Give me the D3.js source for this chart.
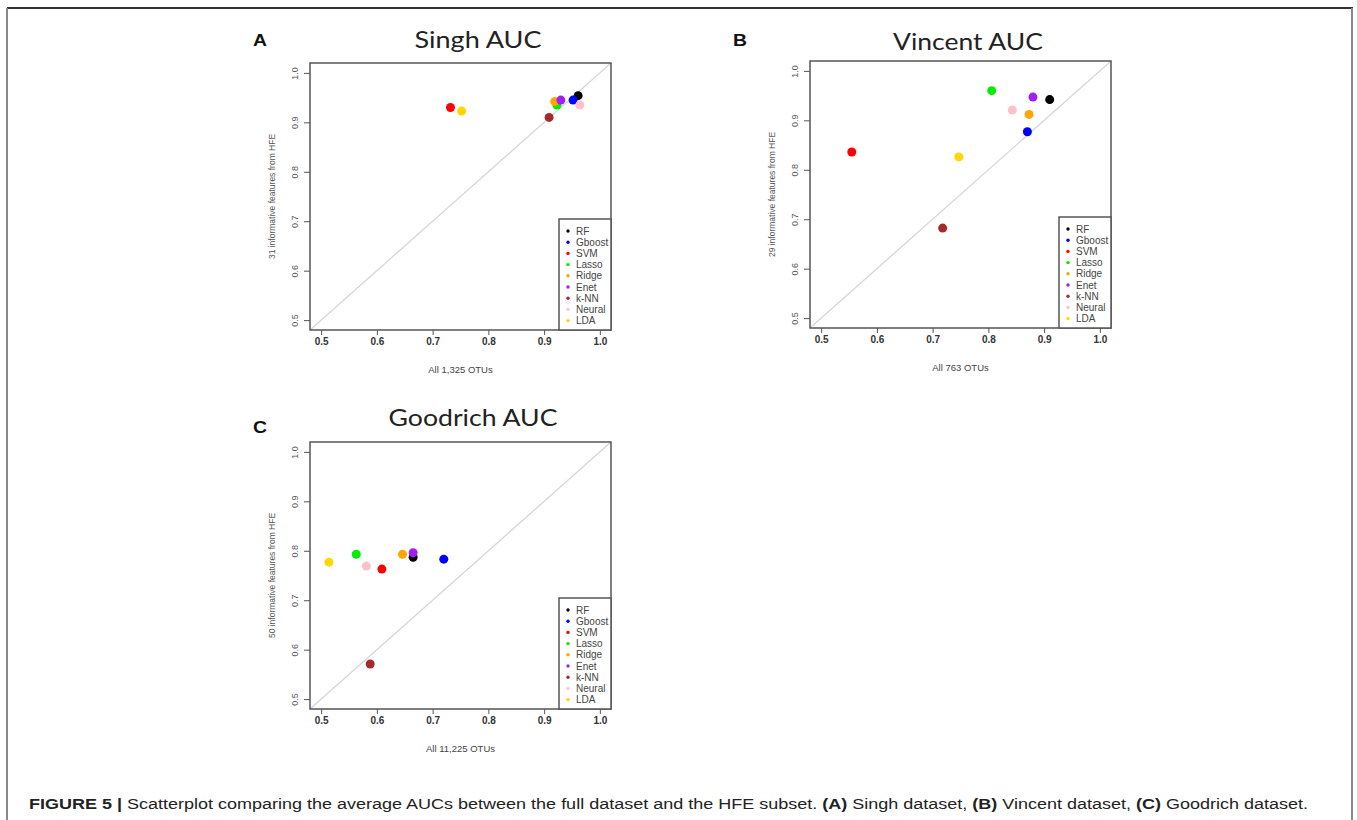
<!DOCTYPE html>
<html>
<head>
<meta charset="utf-8">
<script src="https://cdn.jsdelivr.net/npm/d3@7"></script>
<style>
  body { margin: 0; background: #fff; }
  svg { display: block; }
  text { font-family: 'Liberation Sans', Arial, sans-serif; }
</style>
</head>
<body>
<div id="wrapper"></div>
<script>
// methods shown in every panel, legend order = drawing order
const methods = ['RF', 'Gboost', 'SVM', 'Lasso', 'Ridge', 'Enet', 'k-NN', 'Neural', 'LDA'];
const methodColors = ['#000000', '#0000ff', '#ff0000', '#00ee00', '#ffa500', '#a020f0', '#a52a2a', '#ffc0cb', '#ffd700'];

// average AUC, all OTUs (x) vs HFE subset (y)
const singhAll = [0.961, 0.952, 0.732, 0.923, 0.919, 0.930, 0.909, 0.964, 0.752];
const singhHfe = [0.954, 0.945, 0.930, 0.935, 0.942, 0.945, 0.910, 0.935, 0.923];
const vincentAll = [0.910, 0.870, 0.555, 0.806, 0.873, 0.880, 0.718, 0.843, 0.747];
const vincentHfe = [0.942, 0.877, 0.836, 0.960, 0.912, 0.947, 0.682, 0.921, 0.826];
const goodrichAll = [0.665, 0.720, 0.609, 0.563, 0.646, 0.665, 0.588, 0.581, 0.514];
const goodrichHfe = [0.787, 0.783, 0.763, 0.793, 0.793, 0.796, 0.571, 0.769, 0.777];

const axisTicks = [0.5, 0.6, 0.7, 0.8, 0.9, 1.0];
const axisDomain = [0.48, 1.02];

const panels = [
  { letter: 'A', title: 'Singh AUC', xLabel: 'All 1,325 OTUs', yLabel: '31 informative features from HFE',
    xs: singhAll, ys: singhHfe,
    box: { left: 310, right: 611, top: 63, bottom: 330 },
    titlePos: { x: 478, y: 48, w: 127 }, letterPos: { x: 253, y: 46 }, legendTop: 219 },
  { letter: 'B', title: 'Vincent AUC', xLabel: 'All 763 OTUs', yLabel: '29 informative features from HFE',
    xs: vincentAll, ys: vincentHfe,
    box: { left: 810, right: 1111, top: 61, bottom: 328 },
    titlePos: { x: 968, y: 50, w: 150 }, letterPos: { x: 733, y: 46 }, legendTop: 217 },
  { letter: 'C', title: 'Goodrich AUC', xLabel: 'All 11,225 OTUs', yLabel: '50 informative features from HFE',
    xs: goodrichAll, ys: goodrichHfe,
    box: { left: 310, right: 611, top: 442, bottom: 709 },
    titlePos: { x: 473, y: 426, w: 169 }, letterPos: { x: 253, y: 433 }, legendTop: 598 },
];

const width = 1357;
const height = 820;

const svg = d3.select('#wrapper')
  .append('svg')
  .attr('width', width)
  .attr('height', height);

// figure frame
svg.append('line').attr('x1', 7).attr('x2', 1353).attr('y1', 8).attr('y2', 8)
  .attr('stroke', '#333').attr('stroke-width', 2);
svg.append('line').attr('x1', 7).attr('x2', 7).attr('y1', 8).attr('y2', height)
  .attr('stroke', '#888').attr('stroke-width', 2);
svg.append('line').attr('x1', 1352).attr('x2', 1352).attr('y1', 8).attr('y2', height)
  .attr('stroke', '#888').attr('stroke-width', 2);

const drawPanel = (p) => {
  const { left, right, top, bottom } = p.box;
  const xScale = d3.scaleLinear().domain(axisDomain).range([left, right]);
  const yScale = d3.scaleLinear().domain(axisDomain).range([bottom, top]);

  const g = svg.append('g');

  // panel letter and title
  g.append('text')
    .attr('x', p.letterPos.x)
    .attr('y', p.letterPos.y)
    .attr('textLength', 14)
    .attr('lengthAdjust', 'spacingAndGlyphs')
    .style('font-size', '17px')
    .style('font-weight', 'bold')
    .style('fill', '#111')
    .text(p.letter);

  g.append('text')
    .attr('x', p.titlePos.x - p.titlePos.w / 2)
    .attr('y', p.titlePos.y)
    .attr('textLength', p.titlePos.w)
    .attr('lengthAdjust', 'spacingAndGlyphs')
    .style('font-family', 'Lato, "Open Sans", sans-serif')
    .style('font-size', '24px')
    .style('fill', '#222')
    .text(p.title);

  // identity line
  g.append('line')
    .attr('x1', xScale(axisDomain[0])).attr('y1', yScale(axisDomain[0]))
    .attr('x2', xScale(axisDomain[1])).attr('y2', yScale(axisDomain[1]))
    .attr('stroke', '#d6d6d6')
    .attr('stroke-width', 1.3);

  // axes
  const xAxis = d3.axisBottom(xScale).tickValues(axisTicks).tickFormat(d3.format('.1f'))
    .tickSize(5).tickSizeOuter(0);
  const xg = g.append('g')
    .attr('transform', `translate(0,${bottom})`)
    .call(xAxis);
  xg.select('.domain').remove();
  xg.selectAll('line').attr('stroke', '#555').attr('stroke-width', 1);
  xg.selectAll('text')
    .attr('y', 15)
    .attr('dy', 0)
    .style('font-size', '10px')
    .style('font-weight', 'bold')
    .style('fill', '#333')
    .style('font-family', "'Liberation Sans', Arial, sans-serif");

  const yAxis = d3.axisLeft(yScale).tickValues(axisTicks).tickFormat(d3.format('.1f'))
    .tickSize(6).tickSizeOuter(0);
  const yg = g.append('g')
    .attr('transform', `translate(${left},0)`)
    .call(yAxis);
  yg.select('.domain').remove();
  yg.selectAll('line').attr('stroke', '#555').attr('stroke-width', 1);
  yg.selectAll('text')
    .attr('x', null)
    .attr('dy', null)
    .attr('text-anchor', 'middle')
    .attr('transform', 'translate(-12,0) rotate(-90)')
    .style('font-size', '9px')
    .style('fill', '#555')
    .style('font-family', "'Liberation Sans', Arial, sans-serif");

  // plot box
  g.append('rect')
    .attr('x', left).attr('y', top)
    .attr('width', right - left).attr('height', bottom - top)
    .attr('fill', 'none')
    .attr('stroke', '#555')
    .attr('stroke-width', 1.5);

  // axis labels
  g.append('text')
    .attr('x', (left + right) / 2)
    .attr('y', bottom + 43)
    .attr('text-anchor', 'middle')
    .style('font-size', '9.5px')
    .style('fill', '#444')
    .text(p.xLabel);

  g.append('text')
    .attr('transform', `translate(${left - 35},${(top + bottom) / 2}) rotate(-90)`)
    .attr('text-anchor', 'middle')
    .style('font-size', '8.5px')
    .style('fill', '#555')
    .text(p.yLabel);

  // points
  g.append('g')
    .selectAll('circle')
    .data(methods)
    .join('circle')
    .attr('cx', (d, i) => xScale(p.xs[i]))
    .attr('cy', (d, i) => yScale(p.ys[i]))
    .attr('r', 4.5)
    .attr('fill', (d, i) => methodColors[i]);

  // legend
  const lx = left + 249;
  const rowH = 11.2;
  const legend = g.append('g');
  legend.append('rect')
    .attr('x', lx).attr('y', p.legendTop)
    .attr('width', right - lx).attr('height', bottom - p.legendTop)
    .attr('fill', '#fff')
    .attr('stroke', '#555')
    .attr('stroke-width', 1.5);
  const rows = legend.selectAll('g.row')
    .data(methods)
    .join('g')
    .attr('class', 'row')
    .attr('transform', (d, i) => `translate(${lx + 9},${p.legendTop + 12 + i * rowH})`);
  rows.append('circle')
    .attr('r', 1.7)
    .attr('fill', (d, i) => methodColors[i]);
  rows.append('text')
    .attr('x', 8)
    .attr('y', 3.5)
    .style('font-size', '10px')
    .style('fill', '#444')
    .text((d) => d);
};

panels.forEach(drawPanel);

// caption
const caption = svg.append('text')
  .attr('x', 29)
  .attr('y', 809)
  .attr('textLength', 1279)
  .attr('lengthAdjust', 'spacingAndGlyphs')
  .style('font-size', '14px')
  .style('fill', '#222');
const captionParts = [
  ['FIGURE 5 | ', true],
  ['Scatterplot comparing the average AUCs between the full dataset and the HFE subset. ', false],
  ['(A)', true], [' Singh dataset, ', false],
  ['(B)', true], [' Vincent dataset, ', false],
  ['(C)', true], [' Goodrich dataset.', false],
];
captionParts.forEach(([t, bold]) => {
  caption.append('tspan')
    .style('font-weight', bold ? 'bold' : 'normal')
    .text(t);
});
</script>
</body>
</html>
